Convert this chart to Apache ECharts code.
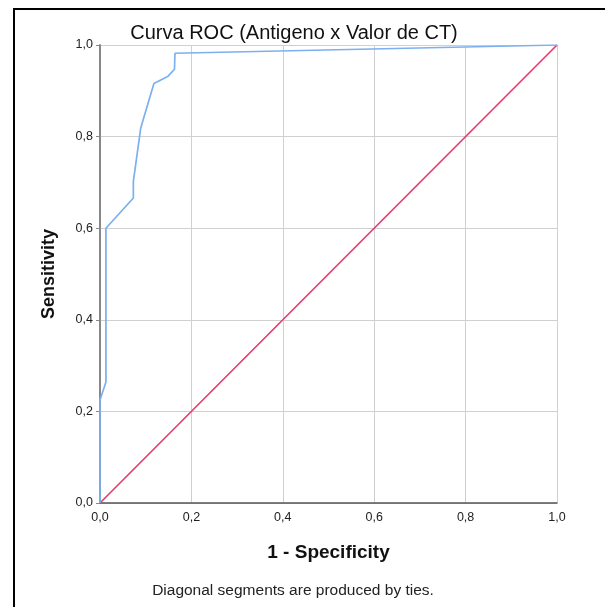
<!DOCTYPE html>
<html>
<head>
<meta charset="utf-8">
<script src="https://cdn.jsdelivr.net/npm/echarts@6/dist/echarts.min.js"></script>
<style>html,body{margin:0;padding:0;background:#fff;}#c{width:605px;height:607px;}</style>
</head>
<body>
<div id="c"></div>
<script>
var fpr = [0, 0, 0.013, 0.013, 0.073, 0.073, 0.089, 0.118, 0.149, 0.163, 0.164, 1.0];
var tpr = [0, 0.225, 0.264, 0.600, 0.666, 0.702, 0.818, 0.916, 0.932, 0.947, 0.982, 1.0];
var refX = [0, 1];
var refY = [0, 1];
var titleText = 'Curva ROC (Antigeno x Valor de CT)';
var xName = '1 - Specificity';
var yName = 'Sensitivity';
var footText = 'Diagonal segments are produced by ties.';

var FONT = '"Liberation Sans", Arial, sans-serif';
var fmt = function (v) { return v.toFixed(1).replace('.', ','); };
var chart = echarts.init(document.getElementById('c'), null, {renderer: 'canvas'});
chart.setOption({
  animation: false,
  backgroundColor: '#fff',
  grid: {left: 100, right: 48, top: 45, bottom: 104},
  xAxis: {
    type: 'value', min: 0, max: 1, interval: 0.2,
    name: xName, nameLocation: 'middle', nameGap: 40,
    nameTextStyle: {fontFamily: FONT, fontSize: 19, fontWeight: 'bold', color: '#111'},
    axisLine: {lineStyle: {color: '#555', width: 1.5}},
    axisTick: {show: false},
    axisLabel: {formatter: fmt, fontFamily: FONT, fontSize: 12.5, color: '#222', margin: 8},
    splitLine: {show: true, lineStyle: {color: '#d0d0d0', width: 1}}
  },
  yAxis: {
    type: 'value', min: 0, max: 1, interval: 0.2,
    name: yName, nameLocation: 'middle', nameGap: 42,
    nameTextStyle: {fontFamily: FONT, fontSize: 18, fontWeight: 'bold', color: '#111'},
    axisLine: {show: true, lineStyle: {color: '#888', width: 2}},
    axisTick: {show: true, length: 4, lineStyle: {color: '#888'}},
    axisLabel: {formatter: fmt, fontFamily: FONT, fontSize: 12.5, color: '#222', margin: 7},
    splitLine: {show: true, lineStyle: {color: '#d0d0d0', width: 1}}
  },
  series: [
    {
      type: 'line', data: refX.map(function (x, i) { return [x, refY[i]]; }),
      symbol: 'none', lineStyle: {color: '#e23f6e', width: 1.7}, z: 3
    },
    {
      type: 'line', data: fpr.map(function (x, i) { return [x, tpr[i]]; }),
      symbol: 'none', lineStyle: {color: '#7cb0ee', width: 1.7}, z: 4
    }
  ],
  graphic: [
    {type: 'rect', shape: {x: 14, y: 9, width: 620, height: 620},
     style: {fill: 'none', stroke: '#000', lineWidth: 2}, silent: true},
    {type: 'text', x: 294, y: 33,
     style: {text: titleText, fontFamily: FONT, fontSize: 20, fill: '#111', textAlign: 'center', textVerticalAlign: 'middle'}},
    {type: 'text', x: 293, y: 591,
     style: {text: footText, fontFamily: FONT, fontSize: 15.5, fill: '#222', textAlign: 'center', textVerticalAlign: 'middle'}}
  ]
});
</script>
</body>
</html>
